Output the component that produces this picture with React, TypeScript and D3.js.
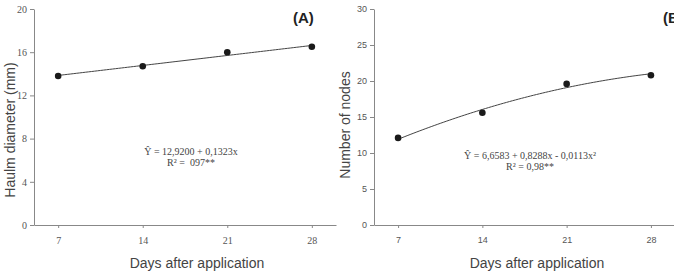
import React, { useEffect, useRef } from 'react';
import * as d3 from 'd3';

const days = [7, 14, 21, 28];
const haulmDiameter = [13.8, 14.7, 16.0, 16.5];
const nodeCount = [12.1, 15.6, 19.6, 20.8];

// fitted equations printed on the panels
const haulmCoef = [12.92, 0.1323];
const nodeCoef = [6.6583, 0.8288, -0.0113];

const haulmTicks = [0, 4, 8, 12, 16, 20];
const nodeTicks = [0, 5, 10, 15, 20, 25, 30];

interface PanelSpec {
    left: number;
    right: number;
    yMax: number;
    yTicks: number[];
    values: number[];
    coef: number[];
    yTitle: string;
    yTitleX: number;
    yTitleY: number;
    label: string;
    labelX: number;
    tickFont: string;
    tickSize: number;
    eq: string[];
    eqX: number;
    eqY: number;
    xTitleX: number;
}

const App: React.FC = () => {
    const ref = useRef<SVGSVGElement | null>(null);

    useEffect(() => {
        if (!ref.current) return;
        const width = 674;
        const height = 275;
        const top = 9;
        const bottom = 225;

        const svg = d3.select(ref.current);
        svg.selectAll('*').remove();
        svg.attr('width', width).attr('height', height);

        const panels: PanelSpec[] = [
            {
                left: 34, right: 336, yMax: 20, yTicks: haulmTicks, values: haulmDiameter,
                coef: haulmCoef, yTitle: 'Haulm diameter (mm)', yTitleX: 15, yTitleY: 130,
                label: '(A)', labelX: 293, tickFont: '"Liberation Serif", "Times New Roman", serif', tickSize: 10,
                eq: ['\u0176 = 12,9200 + 0,1323x', 'R\u00b2 =  097**'], eqX: 191, eqY: 155, xTitleX: 197
            },
            {
                left: 374, right: 675, yMax: 30, yTicks: nodeTicks, values: nodeCount,
                coef: nodeCoef, yTitle: 'Number of nodes', yTitleX: 350, yTitleY: 125,
                label: '(B)', labelX: 663, tickFont: '"Liberation Sans", Arial, sans-serif', tickSize: 9,
                eq: ['\u0176 = 6,6583 + 0,8288x - 0,0113x\u00b2', 'R\u00b2 = 0,98**'], eqX: 530, eqY: 159, xTitleX: 537
            }
        ];

        panels.forEach(p => {
            const g = svg.append('g');
            const x = d3.scaleLinear().domain([5, 30]).range([p.left, p.right]);
            const y = d3.scaleLinear().domain([0, p.yMax]).range([bottom, top]);

            // y axis
            const yAxis = g.append('g')
                .attr('transform', `translate(${p.left},0)`)
                .call(d3.axisLeft(y).tickValues(p.yTicks).tickSize(4).tickPadding(3).tickSizeOuter(0));
            yAxis.select('.domain').attr('stroke', '#888');
            yAxis.selectAll('line').attr('stroke', '#888');
            yAxis.selectAll('text')
                .attr('fill', '#555')
                .style('font-family', p.tickFont)
                .style('font-size', `${p.tickSize}px`);

            // x axis
            const xAxis = g.append('g')
                .attr('transform', `translate(0,${bottom})`)
                .call(d3.axisBottom(x).tickValues(days).tickSize(3).tickPadding(9).tickSizeOuter(0));
            xAxis.select('.domain').attr('stroke', '#888');
            xAxis.selectAll('line').attr('stroke', '#888');
            xAxis.selectAll('text')
                .attr('fill', '#555')
                .style('font-family', p.tickFont)
                .style('font-size', `${p.tickSize}px`);

            // fitted curve
            const xs = d3.range(days[0], days[days.length - 1] + 0.001, 0.25);
            const fit = (v: number) => p.coef.reduce((s, c, i) => s + c * Math.pow(v, i), 0);
            g.append('path')
                .datum(xs)
                .attr('fill', 'none')
                .attr('stroke', '#444')
                .attr('stroke-width', 1)
                .attr('d', d3.line<number>().x(d => x(d)).y(d => y(fit(d))));

            // observed means
            g.selectAll('circle.pt')
                .data(days)
                .enter()
                .append('circle')
                .attr('class', 'pt')
                .attr('cx', d => x(d))
                .attr('cy', (_d, i) => y(p.values[i]))
                .attr('r', 3.3)
                .attr('fill', '#1a1a1a');

            // equation
            p.eq.forEach((line, i) => {
                g.append('text')
                    .attr('x', p.eqX)
                    .attr('y', p.eqY + i * 10.5)
                    .attr('text-anchor', 'middle')
                    .style('font-family', '"Liberation Serif", "Times New Roman", serif')
                    .style('font-size', '10px')
                    .style('white-space', 'pre')
                    .attr('fill', '#444')
                    .text(line);
            });

            // panel label
            g.append('text')
                .attr('x', p.labelX)
                .attr('y', 23)
                .style('font-family', '"Liberation Sans", Arial, sans-serif')
                .style('font-size', '15px')
                .style('font-weight', 'bold')
                .attr('fill', '#222')
                .text(p.label);

            // axis titles
            g.append('text')
                .attr('x', p.xTitleX)
                .attr('y', 268)
                .attr('text-anchor', 'middle')
                .style('font-family', '"Liberation Sans", Arial, sans-serif')
                .style('font-size', '14px')
                .attr('fill', '#444')
                .text('Days after application');

            g.append('text')
                .attr('transform', `translate(${p.yTitleX},${p.yTitleY}) rotate(-90)`)
                .attr('text-anchor', 'middle')
                .style('font-family', '"Liberation Sans", Arial, sans-serif')
                .style('font-size', '14px')
                .attr('fill', '#444')
                .text(p.yTitle);
        });
    }, []);

    return <svg ref={ref} style={{ position: 'absolute', left: 0, top: 0, background: '#fff' }} />;
};

export default App;
